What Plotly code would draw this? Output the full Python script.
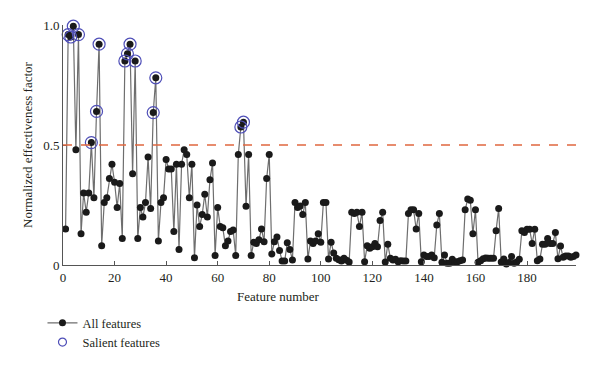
import plotly.graph_objects as go

values = [
    0.15, 0.96, 0.95, 0.995, 0.48, 0.96, 0.13, 0.30, 0.22, 0.30,
    0.51, 0.28, 0.64, 0.92, 0.08, 0.26, 0.28, 0.36, 0.42, 0.345,
    0.24, 0.34, 0.11, 0.85, 0.88, 0.92, 0.38, 0.85, 0.11, 0.24,
    0.20, 0.26, 0.45, 0.235, 0.635, 0.78, 0.10, 0.26, 0.28, 0.44,
    0.40, 0.40, 0.14, 0.42, 0.065, 0.42, 0.48, 0.46, 0.28, 0.42,
    0.03, 0.25, 0.16, 0.21, 0.295, 0.20, 0.355, 0.425, 0.04, 0.24,
    0.16, 0.155, 0.08, 0.10, 0.14, 0.146, 0.04, 0.46, 0.575, 0.595,
    0.245, 0.46, 0.04, 0.095, 0.09, 0.105, 0.15, 0.097, 0.36, 0.46,
    0.046, 0.097, 0.117, 0.06, 0.017, 0.017, 0.093, 0.065, 0.021, 0.26,
    0.24, 0.246, 0.21, 0.26, 0.025, 0.10, 0.09, 0.10, 0.13, 0.095,
    0.26, 0.26, 0.025, 0.095, 0.05, 0.028, 0.022, 0.017, 0.028, 0.02,
    0.012, 0.22, 0.215, 0.22, 0.16, 0.22, 0.014, 0.08, 0.07, 0.076,
    0.09, 0.076, 0.185, 0.22, 0.012, 0.086, 0.028, 0.021, 0.024, 0.014,
    0.018, 0.017, 0.017, 0.215, 0.23, 0.23, 0.15, 0.215, 0.014, 0.042,
    0.035, 0.035, 0.042, 0.03, 0.167, 0.215, 0.011, 0.042, 0.007, 0.007,
    0.024, 0.014, 0.014, 0.018, 0.021, 0.23, 0.275, 0.27, 0.13, 0.23,
    0.011, 0.018, 0.026, 0.029, 0.028, 0.028, 0.028, 0.143, 0.235, 0.012,
    0.025, 0.004, 0.01, 0.035, 0.007, 0.012, 0.024, 0.143, 0.135, 0.149,
    0.149, 0.09, 0.149, 0.018, 0.025, 0.086, 0.086, 0.11, 0.09, 0.09,
    0.135, 0.026, 0.079, 0.032, 0.037, 0.037, 0.032, 0.035, 0.042,
]
features = list(range(1, len(values) + 1))
threshold = 0.5
salient_x = [f for f, v in zip(features, values) if v > threshold]
salient_y = [v for v in values if v > threshold]

x_ticks = [0, 20, 40, 60, 80, 100, 120, 140, 160, 180]
y_ticks = [0, 0.5, 1.0]
y_tick_text = ["0", "0.5", "1.0"]

FONT = "Liberation Serif"
TXT = "#231f20"
SAL = "#4f4fb8"

fig = go.Figure()
fig.add_trace(go.Scatter(
    x=features, y=values, mode="lines+markers", name="All features",
    line=dict(color="#6e6e6e", width=1.2),
    marker=dict(color="#1a1a1a", size=7),
    cliponaxis=False,
))
fig.add_trace(go.Scatter(
    x=salient_x, y=salient_y, mode="markers", name="Salient features",
    marker=dict(symbol="circle-open", color=SAL, size=12, line=dict(width=1.2)),
    cliponaxis=False, showlegend=False,
))
# legend entry with a smaller open circle, as in the reference
fig.add_trace(go.Scatter(
    x=[None], y=[None], mode="markers", name="Salient features",
    marker=dict(symbol="circle-open", color=SAL, size=8, line=dict(width=1.2)),
))
fig.add_shape(type="line", x0=0, x1=features[-1], y0=threshold, y1=threshold,
              xref="x", yref="y", line=dict(color="#e0673f", width=1.3, dash="dash"))

fig.update_layout(
    width=592, height=360,
    margin=dict(l=55, r=24, t=17, b=103, autoexpand=False),
    paper_bgcolor="white", plot_bgcolor="white",
    font=dict(family=FONT, size=13, color=TXT),
    showlegend=True,
    legend=dict(x=-0.04, y=-0.18, xanchor="left", yanchor="top",
                font=dict(family=FONT, size=12.5, color=TXT),
                itemwidth=30, tracegroupgap=0, bgcolor="rgba(0,0,0,0)"),
    xaxis=dict(range=[0, 199], tickvals=x_ticks, ticks="inside", ticklen=4,
               tickcolor="#555", showline=True, linecolor="#555", linewidth=1,
               showgrid=False, zeroline=False, tickfont=dict(size=13)),
    yaxis=dict(range=[0, 1.0], tickvals=y_ticks, ticktext=y_tick_text,
               ticks="inside", ticklen=4, tickcolor="#555", showline=True,
               linecolor="#555", linewidth=1, showgrid=False, zeroline=False,
               tickfont=dict(size=13),
               title=dict(text="Normalized effectiveness factor", standoff=7,
                          font=dict(size=13))),
    annotations=[dict(text="Feature number", xref="paper", yref="paper",
                      x=(278 - 63) / 513, y=-0.09, xanchor="center", yanchor="top",
                      showarrow=False, font=dict(size=13, family=FONT, color=TXT))],
)

fig.write_html("out.html")
